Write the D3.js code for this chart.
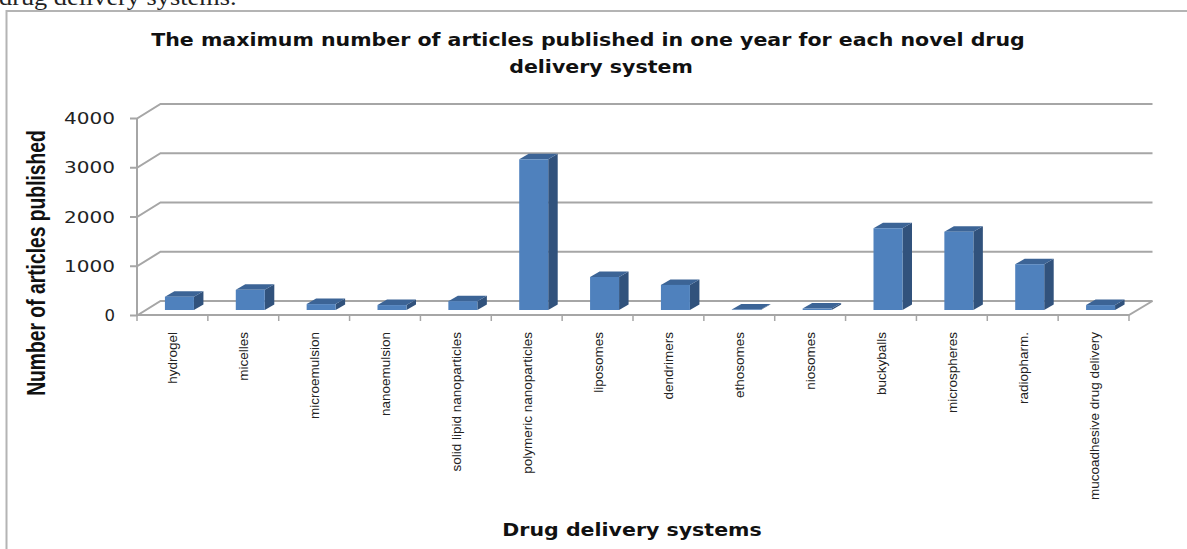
<!DOCTYPE html>
<html><head><meta charset="utf-8">
<script src="https://cdn.jsdelivr.net/npm/d3@7/dist/d3.min.js"></script>
<style>html,body{margin:0;padding:0;background:#fff;overflow:hidden}svg{display:block}</style>
</head><body><div id="chart"></div>
<script>
const categories = ["hydrogel","micelles","microemulsion","nanoemulsion","solid lipid nanoparticles","polymeric nanoparticles","liposomes","dendrimers","ethosomes","niosomes","buckyballs","microspheres","radiopharm.","mucoadhesive drug delivery"];
const values = [270,410,120,100,180,3060,670,510,10,30,1660,1590,930,100];
const yTicks = [0,1000,2000,3000,4000];
const titleLines = ["The maximum number of articles published in one year for each novel drug","delivery system"];
const xTitle = "Drug delivery systems";
const yTitle = "Number of articles published";
const strayText = "drug delivery systems.";

const W=1187,H=549;
const svg=d3.select("#chart").append("svg").attr("width",W).attr("height",H);
const x=d3.scaleBand().domain(categories).range([137,1129]).paddingInner(0).paddingOuter(0);
const y=d3.scaleLinear().domain([0,4000]).range([315,118]);
const wallDx=23.5, wallDy=-14;
const grid="#a6a6a6";

svg.append("text").attr("transform","translate(-1,5) scale(1.12,1)").attr("font-family","Liberation Serif").attr("font-size",23.5).attr("fill","#222").text(strayText);
svg.append("path").attr("d",`M6.5,${H}V11H${W}`).attr("fill","none").attr("stroke","#b4b4b4").attr("stroke-width",2);

yTicks.forEach(t=>{
  const p=y(t);
  svg.append("path").attr("d",`M${x.range()[0]-7},${p+0.5}H${x.range()[0]}L${x.range()[0]+wallDx},${p+wallDy}H${x.range()[1]+wallDx}`)
    .attr("fill","none").attr("stroke",grid).attr("stroke-width",2);
  const label=svg.append("text").attr("x",115).attr("y",p+6).attr("text-anchor","end")
    .attr("font-family","DejaVu Sans").attr("font-size",16.5).attr("fill","#222").text(t);
  if(t!==0) label.attr("textLength",51).attr("lengthAdjust","spacingAndGlyphs");
});
const x0=x.range()[0],x1=x.range()[1];
svg.append("path").attr("d",`M${x0},${y(4000)}V${y(0)}H${x1}L${x1+wallDx},${y(0)+wallDy}`).attr("fill","none").attr("stroke",grid).attr("stroke-width",2);
categories.concat(["_end"]).forEach((c,i)=>{
  const tx=i<categories.length?x(c):x1;
  svg.append("line").attr("x1",tx).attr("x2",tx).attr("y1",y(0)).attr("y2",y(0)+6).attr("stroke",grid).attr("stroke-width",1.5);
});
const barW=29,dx=9.5,dy=-5.5,off=(x.bandwidth()-barW)/2+7,base=-5;
const g=svg.append("g").selectAll("g").data(categories.map((c,i)=>({c,v:values[i]}))).join("g");
g.each(function(d){
  const s=d3.select(this),l=x(d.c)+off,r=l+barW,b=y(0)+base,t=y(d.v)+base;
  s.append("path").attr("d",`M${r},${t}L${r+dx},${t+dy}V${b+dy}L${r},${b}Z`).attr("fill","#31527c");
  s.append("path").attr("d",`M${l},${t}L${l+dx},${t+dy}H${r+dx}L${r},${t}Z`).attr("fill","#3c6496");
  s.append("rect").attr("x",l).attr("y",t).attr("width",barW).attr("height",Math.max(b-t,0.5)).attr("fill","#4f81bd");
});
categories.forEach(c=>{
  const cx=x(c)+x.bandwidth()/2+0.5;
  svg.append("text").attr("transform",`translate(${cx+4.5},332) rotate(-90)`).attr("text-anchor","end")
    .attr("font-family","Liberation Sans").attr("font-size",13.5).attr("fill","#222").text(c);
});
const stretch=1.11;
const titleCenters=[588,601];
titleLines.forEach((t,i)=>{
  svg.append("text").attr("transform",`translate(${titleCenters[i]},${46+i*27}) scale(${stretch},1)`).attr("text-anchor","middle")
    .attr("font-family","DejaVu Sans").attr("font-weight","bold").attr("font-size",18.5).attr("fill","#111").text(t);
});
svg.append("text").attr("transform",`translate(632,536) scale(${stretch},1)`).attr("text-anchor","middle")
  .attr("font-family","DejaVu Sans").attr("font-weight","bold").attr("font-size",18.5).attr("fill","#111").text(xTitle);
svg.append("text").attr("transform","translate(45,263) rotate(-90) scale(1,1.35)").attr("text-anchor","middle")
  .attr("font-family","Liberation Sans").attr("font-weight","bold").attr("font-size",19.3).attr("fill","#111").text(yTitle);
</script></body></html>
